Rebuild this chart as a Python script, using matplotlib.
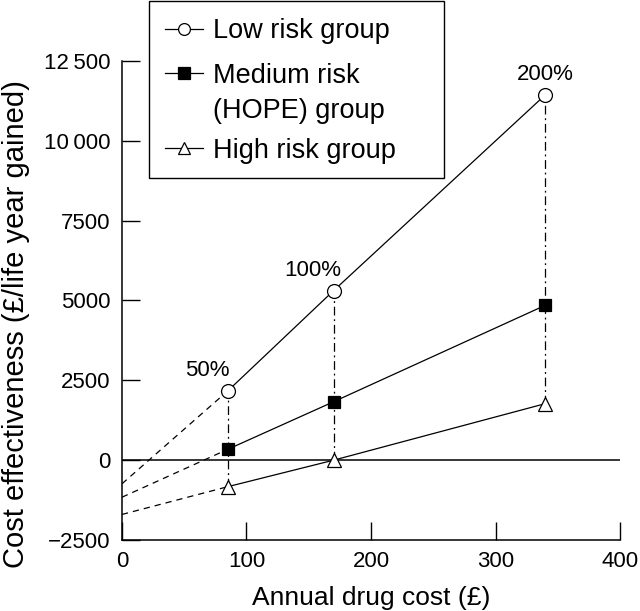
import matplotlib
matplotlib.use("Agg")
import matplotlib.pyplot as plt
from matplotlib.lines import Line2D
from matplotlib.patches import Rectangle

plt.rcParams['font.family'] = ['Liberation Sans', 'DejaVu Sans']

# annual drug cost (GBP) at 50%, 100%, 200% of price
drug_cost = [85, 170, 340]
pct_labels = ["50%", "100%", "200%"]

low_risk = [2170, 5310, 11440]
medium_risk = [340, 1830, 4850]
high_risk = [-830, 0, 1770]

# where the dashed extrapolation meets the y axis (cost = 0)
intercepts = [-740, -1160, -1700]

yticks = [-2500, 0, 2500, 5000, 7500, 10000, 12500]
ytick_labels = ["\u22122500", "0", "2500", "5000", "7500", "10\u2009000", "12\u2009500"]
xticks = [0, 100, 200, 300, 400]

legend_labels = ["Low risk group", "Medium risk\n(HOPE) group", "High risk group"]

W, H = 640, 611
fig = plt.figure(figsize=(6.4, 6.11), dpi=100)
ax = fig.add_axes([0.1906, 0.1162, 0.7782, 0.784])


def fx(px):
    return px / W


def fy(py):
    return 1 - py / H


series = [
    (low_risk, "o", "white"),
    (medium_risk, "s", "black"),
    (high_risk, "^", "white"),
]

# vertical dash-dot connectors
for i, x in enumerate(drug_cost):
    ax.plot([x, x], [high_risk[i], low_risk[i]], color="black", lw=0.9,
            dashes=(7, 3, 1.5, 3), zorder=1)

ax.plot([0, 400], [0, 0], color="black", lw=1.1, zorder=1)

for (vals, mk, fc), b in zip(series, intercepts):
    ax.plot([0, drug_cost[0]], [b, vals[0]], color="black", lw=0.9,
            dashes=(5, 4), zorder=2)
    ax.plot(drug_cost, vals, color="black", lw=0.9, zorder=2)
    ms = 9 if mk == "s" else 10
    ax.plot(drug_cost, vals, linestyle="none", marker=mk, ms=ms,
            mfc=fc, mec="black", mew=0.9, zorder=3)

offsets = [(-15, 7), (-15, 7), (0, 7)]
for x, y, t, off in zip(drug_cost, low_risk, pct_labels, offsets):
    ax.annotate(t, (x, y), xytext=off, textcoords="offset points",
                ha="center", va="bottom", fontsize=16)

ax.set_xlim(0, 400)
ax.set_ylim(-2500, 12500)
ax.set_xticks(xticks)
ax.set_yticks(yticks)
ax.set_yticklabels(ytick_labels)
ax.tick_params(direction="in", length=13, width=1, labelsize=16, pad=8)
ax.spines["top"].set_visible(False)
ax.spines["right"].set_visible(False)
for s in ["left", "bottom"]:
    ax.spines[s].set_linewidth(1.1)

ax.set_xlabel("Annual drug cost (\u00a3)", fontsize=19, labelpad=10)
ax.set_ylabel("Cost effectiveness (\u00a3/life year gained)", fontsize=21, va="center")
ax.yaxis.set_label_coords(-0.213, 0.45)

# legend box drawn by hand so it matches the wide framed key of the original
fig.add_artist(Rectangle((fx(149), fy(178)), fx(295), 177 / H, transform=fig.transFigure,
                         fill=True, facecolor="white", edgecolor="black", lw=1.0, zorder=5))
marker_y = [29, 73, 148]
baseline_y = [38, 83, 158]
for (vals, mk, fc), lab, my, by in zip(series, legend_labels, marker_y, baseline_y):
    fig.add_artist(Line2D([fx(165), fx(203)], [fy(my), fy(my)], transform=fig.transFigure,
                          color="black", lw=0.9, zorder=6))
    fig.add_artist(Line2D([fx(184)], [fy(my)], transform=fig.transFigure, linestyle="none",
                          marker=mk, ms=8.5, mfc=fc, mec="black", mew=0.9, zorder=7))
    lines = lab.split("\n")
    for k, line in enumerate(lines):
        fig.text(fx(213), fy(by + 35 * k), line, fontsize=19.5, ha="left",
                 va="baseline", zorder=7)

fig.savefig("out.png", dpi=100)
